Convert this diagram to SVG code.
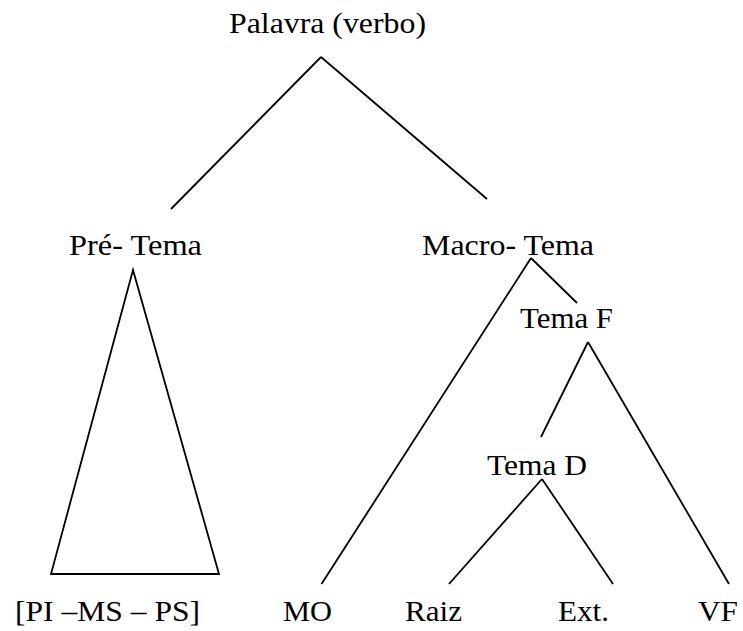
<svg xmlns="http://www.w3.org/2000/svg" width="743" height="631" viewBox="0 0 743 631">
<style>
text { font-family: 'Liberation Serif', 'Times New Roman', serif; font-size: 30px; fill: #000; }
.edge { stroke: #000; stroke-width: 1.8; fill: none; }
</style>
<rect width="743" height="631" fill="#fff"/>
<g id="connectors">
<line class="edge" x1="321" y1="57" x2="171" y2="209"/>
<line class="edge" x1="321" y1="57" x2="487" y2="199"/>
<polygon class="edge" points="133,270 51,574 219,574"/>
<line class="edge" x1="531" y1="258" x2="321.5" y2="584"/>
<line class="edge" x1="531" y1="258" x2="577" y2="303"/>
<line class="edge" x1="588" y1="342" x2="541" y2="437"/>
<line class="edge" x1="588" y1="342" x2="729" y2="584"/>
<line class="edge" x1="542" y1="479" x2="449" y2="584"/>
<line class="edge" x1="542" y1="479" x2="613" y2="584"/>
</g>
<g id="palavra"><text x="229" y="33" textLength="197" lengthAdjust="spacingAndGlyphs">Palavra (verbo)</text></g>
<g id="pre-tema"><text x="69" y="255" textLength="133" lengthAdjust="spacingAndGlyphs">Pré- Tema</text></g>
<g id="macro-tema"><text x="422" y="255" textLength="172" lengthAdjust="spacingAndGlyphs">Macro- Tema</text></g>
<g id="tema-f"><text x="520" y="328" textLength="93" lengthAdjust="spacingAndGlyphs">Tema F</text></g>
<g id="tema-d"><text x="487" y="475" textLength="100" lengthAdjust="spacingAndGlyphs">Tema D</text></g>
<g id="pi-ms-ps"><text x="15" y="621" textLength="185" lengthAdjust="spacingAndGlyphs">[PI –MS – PS]</text></g>
<g id="mo"><text x="283" y="621" textLength="49" lengthAdjust="spacingAndGlyphs">MO</text></g>
<g id="raiz"><text x="405" y="621" textLength="57" lengthAdjust="spacingAndGlyphs">Raiz</text></g>
<g id="ext"><text x="558" y="621" textLength="51" lengthAdjust="spacingAndGlyphs">Ext.</text></g>
<g id="vf"><text x="698" y="621" textLength="40" lengthAdjust="spacingAndGlyphs">VF</text></g>
</svg>
